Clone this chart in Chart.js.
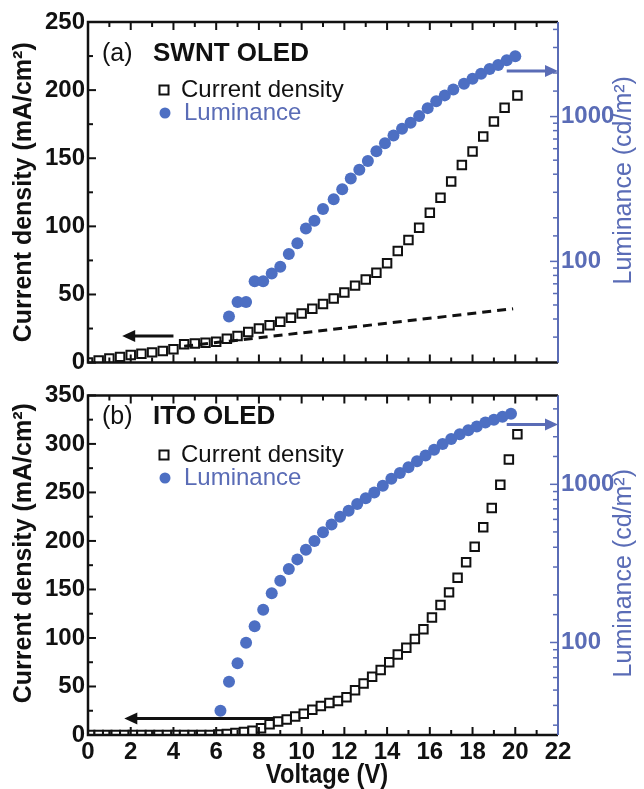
<!DOCTYPE html>
<html>
<head>
<meta charset="utf-8">
<script src="https://cdn.jsdelivr.net/npm/chart.js@4.4.1/dist/chart.umd.min.js"></script>
<style>
  html, body { margin: 0; padding: 0; background: #fff; }
  #wrap { position: relative; width: 644px; height: 789px; }
  .box { position: absolute; left: 0; width: 644px; }
  #boxA { top: 0; height: 380px; }
  #boxB { top: 378px; height: 411px; }
</style>
</head>
<body>
<div id="wrap">
  <div class="box" id="boxA"><canvas id="chartA"></canvas></div>
  <div class="box" id="boxB"><canvas id="chartB"></canvas></div>
</div>
<script>
// ---- panel (a): SWNT OLED ----
const swntVoltJ = [0, 0.5, 1, 1.5, 2, 2.5, 3, 3.5, 4, 4.5, 5, 5.5, 6, 6.5, 7, 7.5, 8, 8.5, 9, 9.5,
  10, 10.5, 11, 11.5, 12, 12.5, 13, 13.5, 14, 14.5, 15, 15.5, 16, 16.5, 17, 17.5, 18, 18.5, 19, 19.5, 20.1];
const swntJ = [0, 1.5, 3, 4.2, 5.5, 6.5, 7.5, 8.6, 9.8, 13.5, 14, 14.6, 15.3, 17.5, 19.5, 22.5, 25, 27.5, 30, 33,
  36, 39.5, 43, 47, 51.5, 56.5, 61, 66, 73, 82, 90, 99, 110, 121, 133, 145, 155, 166, 177, 187, 196];
const swntVoltL = [6.6, 7.0, 7.4, 7.8, 8.2, 8.6, 9.0, 9.4, 9.8, 10.2, 10.6, 11.0, 11.5, 11.9, 12.3, 12.7, 13.1,
  13.5, 13.9, 14.3, 14.7, 15.1, 15.5, 15.9, 16.3, 16.7, 17.1, 17.6, 18.0, 18.4, 18.8, 19.2, 19.6, 20.0];
const swntL = [41.6, 52.5, 52.5, 72.8, 72.8, 82.4, 91.9, 112.5, 133.6, 168.7, 191.1, 230.3, 269, 314.5, 373, 429.1, 493.7,
  576.8, 653.4, 740, 825, 906, 1010, 1144, 1276, 1401, 1538, 1688, 1825, 1973, 2133, 2269, 2453, 2610];
const swntFitVolt = [4.5, 19.9];
const swntFitJ = [12, 39.5];

// ---- panel (b): ITO OLED ----
const itoVoltJ = [0.1, 0.5, 0.9, 1.3, 1.7, 2.1, 2.5, 2.9, 3.3, 3.7, 4.1, 4.5, 4.9, 5.3, 5.7, 6.1, 6.5, 6.9, 7.3, 7.7,
  8.1, 8.5, 8.9, 9.3, 9.7, 10.1, 10.5, 10.9, 11.3, 11.7, 12.1, 12.5, 12.9, 13.3, 13.7, 14.1, 14.5, 14.9, 15.3, 15.7,
  16.1, 16.5, 16.9, 17.3, 17.7, 18.1, 18.5, 18.9, 19.3, 19.7, 20.1];
const itoJ = [0, 0, 0, 0, 0, 0, 0, 0, 0, 0, 0, 0, 0, 0, 0, 0.5, 1, 2, 3, 4.5,
  7, 11, 14, 16, 19, 22, 26, 30, 33, 35, 39, 46, 53, 60, 67, 75, 83, 90, 99, 109,
  121, 134, 147, 162, 178, 194, 214, 234, 258, 284, 310];
const itoVoltL = [6.2, 6.6, 7.0, 7.4, 7.8, 8.2, 8.6, 9.0, 9.4, 9.8, 10.2, 10.6, 11.0, 11.4, 11.8, 12.2, 12.6, 13.0,
  13.4, 13.8, 14.2, 14.6, 15.0, 15.4, 15.8, 16.2, 16.6, 17.0, 17.4, 17.8, 18.2, 18.6, 19.0, 19.4, 19.8];
const itoL = [37, 56.5, 73.9, 99.5, 126.5, 160.8, 204.5, 245.7, 291.1, 335.3, 386.2, 438.5, 498, 557.7, 624.3, 679.5, 750.3, 816.6,
  888.9, 981.1, 1083, 1179, 1283, 1397, 1520, 1655, 1801, 1932, 2074, 2195, 2322, 2458, 2564, 2675, 2791];

const voltTicks = [0, 2, 4, 6, 8, 10, 12, 14, 16, 18, 20, 22];
const lumLabels = [100, 1000];

const NARROW = "'Liberation Sans Narrow', 'Liberation Sans', Arial, sans-serif";
const SANS = "'Liberation Sans', Arial, sans-serif";
const BLUE = '#4d6fc3';
const BLUE_TXT = '#5a6cb6';

const pts = (xs, ys) => xs.map((x, i) => ({ x: x, y: ys[i] }));

function arrow(ctx, x1, x2, y, color) {
  const dir = x2 > x1 ? 1 : -1;
  ctx.save();
  ctx.strokeStyle = color;
  ctx.fillStyle = color;
  ctx.lineWidth = 3;
  ctx.beginPath();
  ctx.moveTo(x1, y);
  ctx.lineTo(x2 - dir * 8, y);
  ctx.stroke();
  ctx.beginPath();
  ctx.moveTo(x2, y);
  ctx.lineTo(x2 - dir * 13, y - 6);
  ctx.lineTo(x2 - dir * 13, y + 6);
  ctx.closePath();
  ctx.fill();
  ctx.restore();
}

// frame, inward ticks, arrows, titles and the in-plot legend
const decor = {
  id: 'decor',
  afterDraw(chart, args, o) {
    const ctx = chart.ctx;
    const a = chart.chartArea;
    const xs = chart.scales.x, ys = chart.scales.y, ls = chart.scales.y2;
    ctx.save();
    ctx.lineCap = 'butt';
    // black frame (left, top, bottom)
    ctx.strokeStyle = '#111';
    ctx.lineWidth = 2.5;
    ctx.beginPath();
    ctx.moveTo(a.right, a.top); ctx.lineTo(a.left, a.top);
    ctx.lineTo(a.left, a.bottom); ctx.lineTo(a.right, a.bottom);
    ctx.stroke();
    // x ticks top and bottom
    ctx.lineWidth = 2;
    for (let v = xs.min; v <= xs.max + 1e-6; v += 1) {
      const px = xs.getPixelForValue(v);
      const len = v % 2 === 0 ? 8 : 5;
      ctx.beginPath();
      ctx.moveTo(px, a.bottom); ctx.lineTo(px, a.bottom - len);
      ctx.moveTo(px, a.top); ctx.lineTo(px, a.top + len);
      ctx.stroke();
    }
    // left y ticks
    const step = o.yStep;
    for (let v = ys.min; v <= ys.max + 1e-6; v += step / 2) {
      const py = ys.getPixelForValue(v);
      const len = (v / step) % 1 === 0 ? 8 : 5;
      ctx.beginPath();
      ctx.moveTo(a.left, py); ctx.lineTo(a.left + len, py);
      ctx.stroke();
    }
    // right log axis in blue
    ctx.strokeStyle = BLUE_TXT;
    ctx.lineWidth = 2;
    ctx.beginPath();
    ctx.moveTo(a.right, a.top); ctx.lineTo(a.right, a.bottom);
    ctx.stroke();
    ctx.lineWidth = 1.5;
    ls.ticks.forEach(t => {
      if (t.value <= ls.min || t.value >= ls.max) return;
      const py = ls.getPixelForValue(t.value);
      const len = lumLabels.includes(t.value) ? 8 : 5;
      ctx.beginPath();
      ctx.moveTo(a.right, py); ctx.lineTo(a.right - len, py);
      ctx.stroke();
    });
    // arrows
    o.arrows.forEach(ar => {
      arrow(ctx, xs.getPixelForValue(ar.x1), xs.getPixelForValue(ar.x2), ys.getPixelForValue(ar.y), ar.color);
    });
    // panel label
    ctx.textBaseline = 'middle';
    ctx.fillStyle = '#111';
    ctx.font = '25px ' + SANS;
    ctx.fillText(o.tag, 102, o.tagY);
    ctx.font = 'bold 26px ' + SANS;
    ctx.fillText(o.name, 153, o.tagY);
    // legend
    ctx.strokeStyle = '#111';
    ctx.lineWidth = 2;
    ctx.strokeRect(o.legX - 4.5, o.legY - 4.5, 9, 9);
    ctx.font = '24px ' + SANS;
    ctx.fillText('Current density', o.legX + 17, o.legY);
    ctx.fillStyle = BLUE;
    ctx.beginPath();
    ctx.arc(o.legX + 1, o.legY + 23, 5.5, 0, Math.PI * 2);
    ctx.fill();
    ctx.fillStyle = BLUE_TXT;
    ctx.fillText('Luminance', o.legX + 20, o.legY + 23);
    // axis titles
    ctx.textAlign = 'center';
    ctx.fillStyle = '#111';
    ctx.font = 'bold 25px ' + NARROW;
    ctx.save();
    ctx.translate(24, (a.top + a.bottom) / 2 + o.leftTitleShift);
    ctx.rotate(-Math.PI / 2);
    ctx.fillText('Current density (mA/cm\u00b2)', 0, 0);
    ctx.restore();
    ctx.fillStyle = BLUE_TXT;
    ctx.font = '25px ' + NARROW;
    ctx.save();
    ctx.translate(624, (a.top + a.bottom) / 2 + o.rightTitleShift);
    ctx.rotate(-Math.PI / 2);
    ctx.fillText('Luminance (cd/m\u00b2)', 0, 0);
    ctx.restore();
    if (o.xTitle) {
      ctx.fillStyle = '#111';
      ctx.font = 'bold 27px ' + NARROW;
      ctx.save();
      ctx.translate(327, a.bottom + 41);
      ctx.scale(0.88, 1);
      ctx.fillText('Voltage (V)', 0, 0);
      ctx.restore();
    }
    ctx.restore();
  }
};

function makeChart(id, d) {
  return new Chart(document.getElementById(id), {
    type: 'scatter',
    data: {
      datasets: [
        {
          label: 'fit',
          data: d.fit,
          showLine: true,
          borderColor: '#111',
          borderWidth: 3,
          borderDash: [9, 6],
          pointRadius: 0,
          yAxisID: 'y'
        },
        {
          label: 'Luminance',
          data: d.lum,
          pointStyle: 'circle',
          pointRadius: 6,
          backgroundColor: BLUE,
          borderWidth: 0,
          yAxisID: 'y2'
        },
        {
          label: 'Current density',
          data: d.cur,
          pointStyle: 'rect',
          pointRadius: 6,
          backgroundColor: '#fff',
          borderColor: '#111',
          borderWidth: 2,
          yAxisID: 'y'
        }
      ]
    },
    options: {
      responsive: true,
      maintainAspectRatio: false,
      animation: false,
      layout: { padding: { top: d.padTop, left: 0, right: 0, bottom: 0 } },
      plugins: {
        legend: { display: false },
        tooltip: { enabled: false },
        decor: d.decor
      },
      scales: {
        x: {
          type: 'linear',
          min: 0, max: 22,
          grid: { display: false, drawTicks: false },
          border: { display: false },
          afterBuildTicks: s => { s.ticks = voltTicks.map(v => ({ value: v })); },
          ticks: {
            display: d.showX,
            padding: 3,
            color: '#111',
            font: { family: NARROW, size: 24, weight: 'bold' }
          },
          afterFit: s => { s.height = d.xHeight; }
        },
        y: {
          type: 'linear',
          position: 'left',
          min: 0, max: d.yMax,
          grid: { display: false, drawTicks: false },
          border: { display: false },
          ticks: {
            stepSize: d.decor.yStep,
            padding: 3,
            color: '#111',
            font: { family: NARROW, size: 24, weight: 'bold' }
          },
          afterFit: s => { s.width = 88; }
        },
        y2: {
          type: 'logarithmic',
          position: 'right',
          min: d.lMin, max: d.lMax,
          grid: { display: false, drawTicks: false },
          border: { display: false },
          ticks: {
            autoSkip: false,
            padding: 3,
            color: BLUE_TXT,
            font: { family: NARROW, size: 24, weight: 'bold' },
            callback: v => lumLabels.includes(v) ? String(v) : ''
          },
          afterFit: s => { s.width = 86; }
        }
      }
    },
    plugins: [decor]
  });
}

makeChart('chartA', {
  cur: pts(swntVoltJ, swntJ),
  lum: pts(swntVoltL, swntL),
  fit: pts(swntFitVolt, swntFitJ),
  yMax: 250, lMin: 20, lMax: 4500,
  padTop: 22, xHeight: 10, showX: false,
  decor: {
    yStep: 50,
    tag: '(a)', name: 'SWNT OLED', tagY: 54,
    legX: 164, legY: 90,
    leftTitleShift: 0, rightTitleShift: -12, xTitle: false,
    arrows: [
      { x1: 4.0, x2: 1.6, y: 19.5, color: '#111' },
      { x1: 19.6, x2: 22.0, y: 214, color: BLUE_TXT }
    ]
  }
});

makeChart('chartB', {
  cur: pts(itoVoltJ, itoJ),
  lum: pts(itoVoltL, itoL),
  fit: [],
  yMax: 350, lMin: 26, lMax: 3650,
  padTop: 10, xHeight: 54, showX: true,
  decor: {
    yStep: 50,
    tag: '(b)', name: 'ITO OLED', tagY: 39,
    legX: 164, legY: 77,
    leftTitleShift: -12, rightTitleShift: 8, xTitle: true,
    arrows: [
      { x1: 8.66, x2: 1.7, y: 17, color: '#111' },
      { x1: 19.6, x2: 22.0, y: 320, color: BLUE_TXT }
    ]
  }
});
</script>
</body>
</html>
